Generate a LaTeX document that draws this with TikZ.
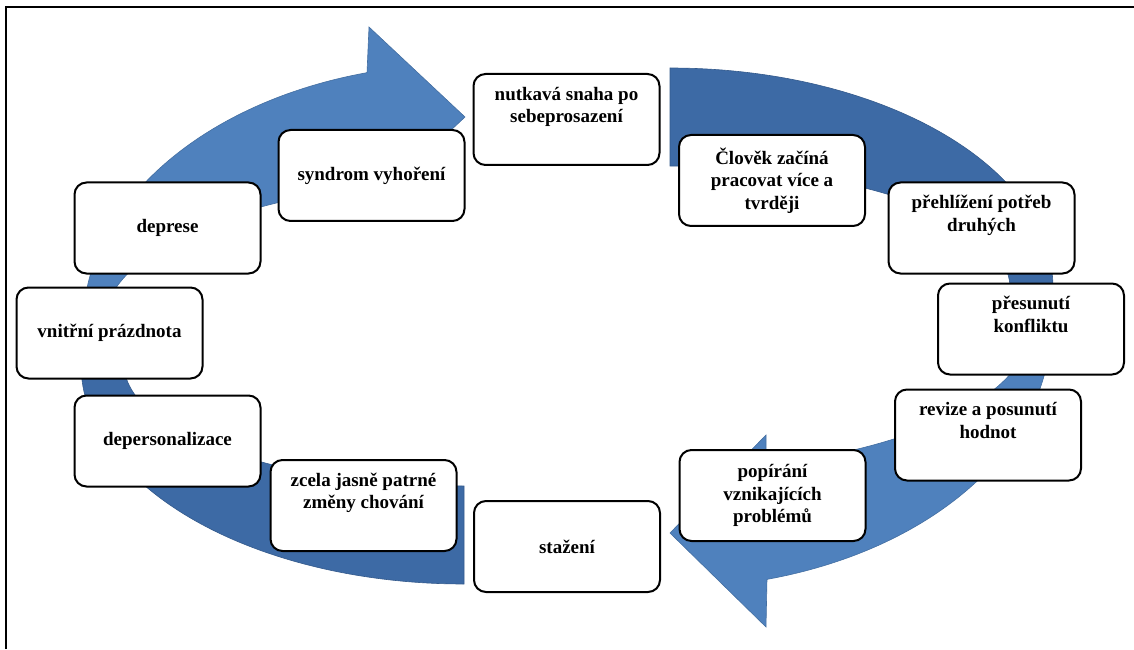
\documentclass[tikz,border=0pt]{standalone}
\usepackage{fontspec}
\setmainfont{Liberation Serif}
\usepackage{tikz}
\definecolor{cyclelight}{HTML}{4F81BD}
\definecolor{cycledark}{HTML}{3D6AA5}

\begin{document}
\begin{tikzpicture}[x=1pt,y=1pt,
  stage/.style={draw,rectangle,rounded corners=12pt,minimum width=186pt,minimum height=91pt,fill=white,line width=2pt,align=center,inner sep=2pt,font=\bfseries\fontsize{19}{22.5}\selectfont},
  lightpart/.style={fill=cyclelight,draw=cyclelight!85!black,line width=0.6pt},
  darkpart/.style={fill=cycledark,draw=cycledark!85!black,line width=0.6pt},
  edgeline/.style={line width=2pt}
]
\useasboundingbox (0,0) rectangle (1134,649);

% Frame (top and left edge only)
\draw[edgeline] (6,0) -- (6,642) -- (1134,642);

% Ring: plain quarters (dark)
\path[darkpart] (670,581) arc[start angle=90,end angle=0,x radius=383,y radius=220]
  -- (1053,323) -- (1010,323) -- (1010,361)
  arc[start angle=0,end angle=90,x radius=340,y radius=122] -- cycle;
\path[darkpart] (464,65) arc[start angle=270,end angle=180,x radius=383,y radius=220]
  -- (81,323) -- (124,323) -- (124,285)
  arc[start angle=180,end angle=270,x radius=340,y radius=122] -- cycle;

% Ring: curved arrows (light)
\path[lightpart] (83,323) arc[start angle=180,end angle=104.75,x radius=381,y radius=262]
  -- (369,622) -- (465,532) -- (369,442) -- (370,462)
  arc[start angle=105.1,end angle=180,x radius=361,y radius=144] -- cycle;
\path[lightpart] (1051,323) arc[start angle=0,end angle=-75.25,x radius=381,y radius=262]
  -- (766,22) -- (670,116) -- (766,214) -- (766,184.2)
  arc[start angle=-74.58,end angle=0,x radius=361,y radius=144] -- cycle;

% Stages
\node[stage] (drive) at (566.5,529.5) {nutkavá snaha po\\sebeprosazení\\\strut};
\node[stage] (work) at (772,468.5) {Člověk začíná\\pracovat více a\\tvrději};
\node[stage] (needs) at (981.5,421) {přehlížení potřeb\\druhých\\\strut};
\node[stage] (conflict) at (1031,320) {přesunutí\\konfliktu\\\strut};
\node[stage] (values) at (988,214) {revize a posunutí\\hodnot\\\strut};
\node[stage] (denial) at (772.5,153.5) {popírání\\vznikajících\\problémů};
\node[stage] (withdraw) at (567,102.5) {stažení};
\node[stage] (change) at (363.5,143.5) {zcela jasně patrné\\změny chování\\\strut};
\node[stage] (depers) at (167.5,208) {depersonalizace};
\node[stage] (empty) at (109.5,316) {vnitřní prázdnota};
\node[stage] (depress) at (167.5,421) {deprese};
\node[stage] (burnout) at (371.5,473.5) {syndrom vyhoření};

\end{tikzpicture}
\end{document}
